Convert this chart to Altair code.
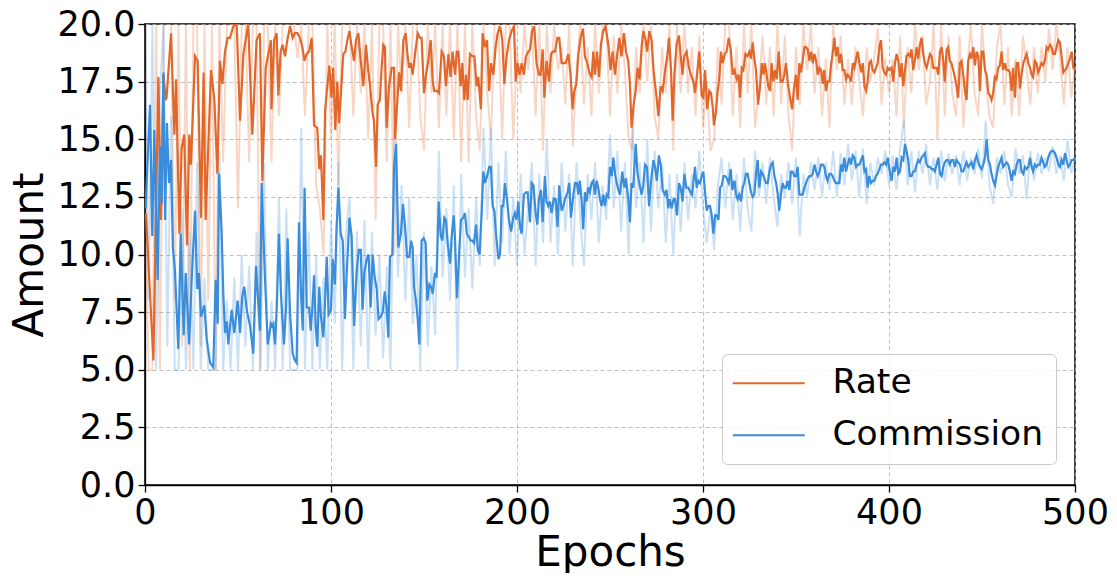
import altair as alt
import pandas as pd

ORANGE = "#e2672b"
BLUE = "#3a8ddb"
FONT = "DejaVu Sans"

series_names = ["Rate", "Commission"]
x_ticks = [0, 100, 200, 300, 400, 500]
y_ticks = [0, 2.5, 5, 7.5, 10, 12.5, 15, 17.5, 20]

# faint raw curves, one value every 2 epochs (0..500)
raw_epochs = list(range(0, 501, 2))
raw_rate = [
    12, 5, 5, 20, 5, 20, 20, 20, 8, 20,
    6, 20, 5, 20, 20, 6, 20, 8, 20, 5,
    20, 14, 20, 20, 20, 12, 20, 20, 14, 20,
    20, 5, 20, 20, 14, 20, 16, 20, 20, 20,
    20, 18.5, 20, 16, 20, 20, 13, 12, 10, 20,
    15, 20, 13, 20, 20, 20, 16, 20, 17, 20,
    15, 20, 11.5, 20, 20, 14, 20, 10, 20, 17,
    20, 15.5, 20, 20, 16, 14.5, 20, 17, 20, 15.5,
    20, 16, 20, 15, 20, 14, 20, 14, 20, 16,
    14.5, 20, 17, 15, 20, 20, 15, 20, 20, 15,
    19, 17, 20, 18, 20, 16, 20, 14.5, 20, 17,
    20, 18, 19, 16.5, 20, 14.7, 18, 20, 16.5, 19,
    16, 20, 17, 20, 20, 16, 19.5, 17, 20, 18,
    15, 14.5, 19, 17, 20, 17.5, 20, 16, 15, 19,
    17, 20, 14.5, 20, 17, 20, 17, 19, 16, 19.5,
    15.5, 17.5, 14.5, 15, 19, 16.5, 20, 20, 16, 19,
    15.5, 20, 17, 20, 15.5, 17, 19.5, 16.5, 19, 16,
    20, 16.5, 19.5, 16, 14.5, 19, 16.5, 20, 18, 20,
    17, 19, 16, 18.5, 15.5, 20, 18, 19.5, 16.5, 18.5,
    16.5, 19, 17.5, 16, 19, 17.5, 18.5, 19.8, 16.5, 18.5,
    17, 18.5, 16, 19.5, 15.5, 19, 17, 20, 18, 19.5,
    16.5, 17.5, 20, 15, 20, 16, 19.5, 17, 16, 19.5,
    15.5, 18, 20, 17, 16, 20, 17.5, 16, 15.5, 19,
    20, 16.5, 19, 16, 18.5, 16, 19.5, 18, 16.5, 19,
    17, 19, 17.5, 19.8, 18, 20, 18.5, 16.5, 19, 16.8,
    18.2,
]
raw_commission = [
    20, 8, 20, 5, 17, 20, 6, 16, 5, 5,
    12, 5, 11, 5, 14, 5, 9, 5, 5, 5,
    14.5, 5, 8, 5, 9, 5, 10, 6, 9.5, 5,
    11, 5, 14, 5, 8, 5, 12.5, 5, 12, 5,
    5, 5, 15.5, 5, 11, 5, 10, 5, 9, 5,
    11.5, 7, 14, 5, 11, 12.5, 5, 11, 6, 11.5,
    5, 11, 6.5, 10, 5.5, 9.5, 5, 15.5, 9, 13,
    8, 12.5, 7, 10, 5, 11, 6, 9.5, 6.5, 14.5,
    9, 12, 8, 13, 5, 13.5, 9, 12, 8.5, 12.5,
    9.5, 15.5, 11.5, 15.5, 9.5, 14, 10.5, 14.5, 10, 12.5,
    9.5, 13.5, 10, 12, 14, 9.5, 13.5, 10.5, 15, 10.5,
    13, 10, 14, 11, 13.5, 9.5, 14, 11.5, 9.5, 13.5,
    11.5, 14, 10.5, 13, 11.5, 15.2, 12, 14.5, 11, 14,
    10, 15.5, 12, 14, 10.5, 15, 11, 14.5, 12, 14,
    10.5, 13.5, 10, 13.5, 11, 14, 11.5, 13.5, 12, 14.5,
    12, 10.5, 12, 10.2, 13, 14.2, 12, 14, 11.5, 13.5,
    11, 14.2, 12, 11, 14.5, 12.5, 14, 12.2, 14.2, 12.5,
    11.2, 13.5, 12.5, 14, 12.2, 14.2, 10.8, 13.5, 12.5, 14,
    12.8, 14.2, 12.5, 14, 12.8, 14.5, 12.5, 14.4, 13, 14.8,
    13.2, 14.5, 12.5, 14.6, 12.2, 14, 13, 14.2, 13.5, 14.5,
    13, 14.3, 12.8, 14.6, 15.8, 13, 14.5, 12.7, 14.5, 13.5,
    14.8, 13, 14.2, 12.8, 14.5, 13.2, 14.4, 13.5, 14.3, 13,
    14.5, 13.2, 14.2, 13.5, 14.6, 13.3, 15.8, 13, 12.2, 14.2,
    13.5, 14.5, 13, 12.5, 14.6, 13.5, 14.3, 12.4, 14.5, 13.2,
    14.4, 13.5, 14.2, 13.6, 14.7, 13.5, 14.3, 13.2, 15, 13.5,
    14.2,
]

# smoothed curves, (epoch, value)
rate_smooth = [
    (0.5, 11.8), (4.5, 5.4), (7.2, 17.7), (8.6, 11.5), (9.9, 17.8), (11.1, 16.7), (11.6, 16.8),
    (14.0, 19.6), (15.8, 15.2), (16.7, 17.6), (18.5, 10.9), (19.7, 14.6), (21.1, 15.2), (22.6, 10.4),
    (23.8, 15.2), (24.7, 13.9), (26.9, 18.6), (28.3, 18.4), (30.1, 11.6), (31.5, 17.9), (32.6, 11.5),
    (35.5, 18.0), (37.3, 16.7), (38.9, 13.5), (40.3, 18.4), (41.6, 17.4), (43.0, 18.8), (44.4, 19.4),
    (45.7, 19.4), (47.5, 19.9), (49.3, 20.0), (51.1, 15.8), (52.9, 18.7), (55.5, 20.0), (57.7, 15.2),
    (60.0, 19.3), (61.8, 19.6), (63.1, 13.2), (64.9, 18.1), (66.3, 18.7), (67.7, 19.3),
    (68.0, 16.3), (69.4, 19.3), (70.8, 19.6), (71.7, 16.9), (72.9, 18.8), (74.0, 19.1), (75.3, 18.6),
    (76.5, 19.3), (78.0, 19.9), (79.4, 19.4), (80.6, 19.6), (81.9, 19.6), (83.3, 19.4), (84.6, 19.0),
    (85.7, 18.4), (86.9, 18.7), (88.2, 18.8), (89.6, 19.4), (90.9, 15.6), (92.6, 15.5), (93.7, 13.7),
    (94.6, 14.3), (95.9, 11.5), (96.8, 16.2), (98.0, 17.3), (99.1, 18.2), (100.2, 16.8), (101.2, 18.1),
    (102.3, 15.4), (103.4, 17.5), (104.3, 15.7), (105.4, 17.1), (106.6, 18.7), (107.7, 18.8),
    (108.8, 19.3), (109.9, 19.7), (111.1, 19.0), (112.4, 18.4), (113.4, 19.3), (114.7, 19.6),
    (116.0, 18.4), (117.4, 17.3), (118.8, 19.1), (120.0, 18.0), (121.0, 17.3), (122.4, 16.1),
    (123.1, 15.8), (124.2, 13.8), (125.1, 16.5), (126.3, 16.7), (127.2, 18.1), (128.1, 19.1),
    (129.0, 19.0), (129.9, 15.5), (131.2, 17.3), (132.6, 18.1), (133.9, 18.1), (134.4, 15.0),
    (136.6, 17.9), (137.6, 17.1), (138.9, 19.3), (140.1, 19.6), (141.2, 18.6), (142.1, 18.1),
    (143.0, 18.3), (143.9, 17.8), (145.2, 18.7), (146.6, 19.6), (147.8, 19.4), (148.7, 19.4),
    (150.0, 17.0), (151.1, 17.8), (152.3, 18.4), (153.6, 19.3), (154.7, 17.5), (155.5, 17.1),
    (156.8, 17.1), (158.0, 17.0), (159.5, 18.8), (160.7, 18.6), (161.8, 17.3), (163.1, 18.7),
    (164.3, 17.7), (165.4, 18.8), (166.7, 17.8), (167.6, 18.8), (168.5, 18.8), (169.7, 17.3),
    (170.6, 18.3), (171.7, 16.7), (172.6, 17.8), (173.5, 16.7), (174.7, 18.7), (176.0, 18.6),
    (177.1, 18.6), (178.3, 17.3), (179.2, 17.7), (180.6, 16.3), (181.5, 19.6), (182.8, 19.0),
    (183.9, 19.3), (185.0, 17.1), (186.0, 18.3), (187.3, 17.8), (188.5, 19.0), (189.6, 19.6),
    (190.9, 19.9), (192.1, 19.3), (193.2, 17.4), (194.4, 18.6), (195.7, 19.3), (197.1, 19.7),
    (198.4, 19.9), (199.3, 17.5),
    (200.3, 18.3), (201.4, 17.8), (202.5, 18.3), (203.7, 17.8), (204.8, 18.6), (206.1, 18.8),
    (207.0, 18.9), (208.2, 19.7), (209.3, 19.9), (210.5, 18.3), (211.8, 17.8), (212.7, 17.8),
    (213.8, 18.9), (214.7, 16.8), (215.9, 18.4), (217.2, 17.5), (218.3, 18.7), (219.2, 18.8),
    (220.4, 18.8), (221.7, 19.4), (222.7, 19.4), (224.0, 18.3), (225.2, 18.3), (226.1, 18.3),
    (227.6, 18.7), (228.8, 17.8), (229.9, 16.3), (230.8, 17.1), (231.9, 17.4), (233.0, 18.7),
    (234.2, 19.4), (235.5, 19.8), (236.5, 18.6), (237.8, 18.3), (238.9, 17.9), (240.1, 17.7),
    (241.0, 18.8), (241.9, 17.8), (243.0, 18.8), (244.1, 17.7), (245.1, 19.1), (246.4, 19.7),
    (247.6, 19.9), (249.1, 19.1), (250.3, 18.0), (251.4, 18.8), (252.7, 17.8), (253.9, 18.7),
    (255.0, 19.4), (256.2, 18.6), (257.5, 19.6), (258.6, 18.8), (259.8, 18.4), (260.7, 17.4),
    (261.6, 15.5), (262.7, 16.5), (263.8, 17.1), (264.8, 18.1), (265.9, 17.6), (267.0, 19.0),
    (267.9, 19.7), (269.2, 19.3), (270.0, 18.8), (271.1, 19.7), (272.4, 19.3), (273.3, 18.1),
    (274.2, 17.4), (275.2, 16.7), (276.0, 16.0), (277.2, 17.3), (278.3, 17.1), (279.5, 17.9),
    (280.8, 18.6), (281.7, 19.4), (282.8, 18.0), (283.7, 15.8), (284.6, 17.8), (285.8, 19.1),
    (287.1, 19.5), (288.0, 18.6), (289.0, 17.8), (289.9, 18.6), (291.2, 18.8), (292.4, 18.1),
    (293.5, 17.8), (294.8, 17.5), (295.7, 17.0), (296.9, 17.9), (298.0, 18.8),
    (299.3, 16.9), (300.2, 16.8), (301.1, 18.0), (302.3, 16.3), (303.4, 17.1), (304.3, 17.0),
    (305.2, 16.4), (305.9, 15.6), (307.0, 16.2), (307.9, 17.1), (308.8, 17.7), (309.7, 18.8),
    (310.6, 18.3), (311.7, 18.7), (312.7, 18.8), (313.8, 19.4), (314.9, 18.9), (316.0, 17.8),
    (317.0, 18.0), (318.1, 17.6), (319.2, 17.8), (319.9, 16.8), (320.8, 18.1), (321.7, 18.0),
    (322.8, 18.7), (323.9, 18.6), (324.9, 18.8), (325.8, 18.5), (326.7, 19.2), (327.6, 18.5),
    (328.5, 18.0), (329.6, 16.5), (330.7, 17.3), (331.6, 18.3), (332.5, 17.8), (333.3, 18.3),
    (334.2, 17.8), (335.1, 17.3), (336.0, 17.1), (336.9, 18.3), (337.8, 17.5), (338.7, 18.0),
    (339.6, 17.6), (340.7, 18.8), (341.8, 17.5), (342.8, 17.5), (343.7, 17.8), (344.6, 18.3),
    (345.7, 17.4), (346.8, 16.8), (347.9, 16.3), (348.9, 17.2), (350.0, 17.8), (350.9, 16.7),
    (351.8, 18.3), (352.7, 17.9), (353.6, 18.4), (354.5, 19.0), (355.4, 19.0), (356.3, 18.9),
    (357.2, 18.4), (358.1, 18.8), (359.0, 18.3), (359.9, 18.7), (360.8, 18.4), (361.7, 17.8),
    (362.6, 18.1), (363.5, 18.0), (364.4, 17.4), (365.2, 18.0), (366.1, 17.1), (367.0, 17.5),
    (368.0, 17.5), (368.8, 18.2), (369.7, 18.7), (370.6, 19.4), (371.5, 18.6), (372.4, 19.0),
    (373.3, 18.3), (374.2, 18.7), (375.1, 18.0), (376.0, 18.0), (376.9, 17.6), (377.8, 17.8),
    (378.7, 17.7), (379.6, 17.5), (380.5, 18.3), (381.4, 18.1), (382.3, 18.5), (383.2, 18.8),
    (384.1, 18.3), (385.0, 17.9), (385.9, 18.3), (386.8, 17.3), (387.7, 17.1), (388.5, 17.5),
    (389.4, 18.3), (390.3, 18.4), (391.2, 18.0), (392.1, 17.9), (393.0, 18.1), (393.9, 18.3),
    (394.8, 19.0), (395.7, 19.3), (396.6, 18.1), (397.5, 17.9), (398.4, 17.8), (399.3, 18.1),
    (400.2, 18.0),
    (401.4, 18.1), (402.3, 17.5), (403.2, 18.3), (404.1, 18.7), (405.0, 18.4), (405.9, 17.7),
    (406.8, 18.3), (407.7, 17.3), (408.6, 18.0), (409.4, 18.6), (410.3, 18.7), (411.2, 18.6),
    (412.1, 18.9), (413.0, 18.0), (413.9, 18.4), (414.8, 19.0), (415.7, 18.5), (416.6, 19.1),
    (417.5, 19.4), (418.4, 18.7), (419.3, 18.3), (420.2, 18.1), (421.1, 18.4), (422.0, 18.7),
    (422.9, 18.6), (423.8, 18.1), (424.7, 18.1), (425.6, 18.1), (426.5, 17.8), (427.4, 18.8),
    (428.3, 19.0), (429.2, 18.4), (430.0, 17.5), (431.0, 18.9), (431.8, 19.0), (432.7, 18.4),
    (433.6, 18.3), (434.5, 18.0), (435.4, 17.7), (436.3, 17.3), (437.2, 16.8), (438.1, 18.3),
    (439.0, 18.4), (439.9, 17.8), (440.8, 17.1), (441.7, 16.7), (442.6, 18.4), (443.5, 18.7),
    (444.4, 18.5), (445.3, 19.0), (446.2, 18.2), (447.1, 18.8), (448.0, 18.6), (448.9, 17.1),
    (449.8, 18.8), (450.7, 18.8), (451.6, 18.0), (452.5, 17.8), (453.4, 17.0), (454.3, 16.9),
    (455.1, 16.7), (456.0, 17.0), (456.9, 17.7), (457.8, 17.6), (458.7, 18.1), (459.6, 18.2),
    (460.5, 18.8), (461.4, 18.0), (462.3, 18.3), (463.2, 18.0), (464.1, 18.0), (465.0, 17.9),
    (465.9, 17.1), (466.8, 18.1), (467.7, 16.8), (468.6, 18.3), (469.5, 18.3), (470.4, 17.2),
    (471.3, 17.8), (472.2, 18.3), (473.1, 18.5), (474.0, 18.7), (474.9, 18.3), (475.8, 18.1),
    (476.7, 17.8), (477.5, 17.7), (478.4, 18.4), (479.3, 18.3), (480.2, 17.9), (481.1, 18.1),
    (482.0, 18.3), (482.9, 18.2), (483.8, 18.4), (484.7, 19.0), (485.6, 18.9), (486.5, 19.1),
    (487.4, 19.0), (488.3, 18.7), (489.2, 18.7), (490.1, 19.0), (491.0, 19.3), (491.9, 19.2),
    (492.8, 18.6), (493.7, 17.9), (494.6, 18.0), (495.5, 18.1), (496.4, 18.3), (497.3, 18.5),
    (498.2, 18.8), (499.1, 18.1), (500.0, 18.0),
]

commission_smooth = [
    (0.3, 12.0), (2.7, 16.5), (3.9, 10.8), (5.0, 15.4), (6.8, 8.9), (8.1, 14.7), (9.0, 12.2),
    (9.9, 17.9), (10.8, 11.5), (11.8, 15.7), (12.9, 13.1), (14.0, 14.1), (15.0, 10.3), (16.1, 9.3),
    (17.9, 5.9), (19.2, 10.9), (20.8, 6.5), (21.9, 9.2), (23.7, 6.1), (25.1, 8.9), (26.9, 11.9),
    (28.1, 8.5), (29.0, 9.2), (30.1, 7.3), (31.9, 7.8), (33.2, 6.3), (35.0, 5.3), (36.7, 5.1),
    (38.0, 8.9), (39.1, 7.0), (39.8, 13.5), (41.2, 11.0), (42.1, 8.3), (43.0, 6.6), (43.9, 7.1),
    (44.8, 6.1), (46.6, 7.6), (48.0, 6.6), (49.8, 8.0), (51.1, 6.6), (52.3, 8.2), (53.4, 8.6),
    (54.7, 7.6), (56.5, 6.9), (58.2, 5.7), (59.7, 9.5), (60.9, 7.9), (61.8, 6.7), (62.7, 13.1),
    (64.2, 9.6), (66.0, 6.1), (67.7, 7.0), (68.3, 6.9),
    (69.0, 7.0), (69.9, 6.1), (70.8, 7.6), (72.0, 10.9), (73.1, 8.3), (74.7, 6.1), (75.8, 7.7),
    (76.7, 10.7), (78.0, 7.4), (79.4, 5.7), (80.6, 5.4), (81.5, 5.3), (82.8, 11.4), (83.9, 8.3),
    (84.8, 6.7), (85.8, 12.9), (86.9, 7.7), (88.2, 7.7), (89.1, 6.7), (90.0, 7.7), (90.9, 9.1),
    (91.8, 6.9), (92.6, 6.0), (93.7, 8.6), (94.6, 7.3), (95.9, 6.4), (96.8, 8.0), (97.7, 9.9),
    (98.7, 7.4), (100.0, 7.6), (100.9, 9.8), (102.1, 8.7), (103.0, 11.2), (104.0, 12.9),
    (105.2, 10.9), (106.3, 10.6), (107.5, 7.2), (108.4, 9.1), (109.9, 11.6), (111.1, 10.8),
    (112.4, 6.9), (113.8, 9.2), (114.9, 10.2), (116.0, 10.2), (117.0, 7.6), (117.9, 9.2),
    (119.2, 9.8), (120.2, 10.0), (121.3, 7.7), (122.4, 10.0), (123.5, 9.0), (124.6, 8.5),
    (125.6, 7.2), (126.7, 7.3), (127.8, 7.5), (128.9, 8.4), (129.9, 7.7), (130.8, 6.4),
    (131.7, 9.9), (133.0, 10.0), (133.9, 13.8), (135.0, 14.8), (136.2, 10.3),
    (137.6, 10.9), (138.7, 12.2), (139.8, 11.2), (140.9, 9.9), (142.1, 9.9), (143.0, 10.6),
    (143.9, 10.3), (144.6, 8.6), (145.7, 8.0), (146.6, 7.2), (147.5, 6.1), (148.7, 10.6),
    (149.8, 10.7), (150.9, 10.5), (151.8, 8.0), (152.9, 8.7), (153.8, 8.6), (154.7, 8.3),
    (155.9, 9.2), (156.8, 9.0), (157.9, 12.3), (159.0, 10.8), (159.9, 10.6), (160.9, 11.6),
    (161.8, 11.5), (162.7, 10.5), (164.0, 9.6), (164.9, 10.8), (166.0, 11.7), (166.7, 10.6),
    (167.7, 8.1), (168.8, 9.9), (169.9, 11.5), (171.1, 11.6), (172.0, 11.8), (173.0, 10.9),
    (173.8, 10.8), (175.1, 10.6), (176.0, 10.6), (176.9, 10.5), (178.0, 11.3), (178.9, 10.2),
    (179.9, 10.0), (181.0, 11.8), (181.9, 13.6), (182.8, 13.1), (183.9, 13.4), (185.1, 13.8),
    (186.0, 13.8), (186.9, 12.1), (187.8, 11.9), (188.7, 10.9), (190.0, 9.8), (190.9, 10.0),
    (191.8, 12.1), (192.6, 12.1), (193.5, 13.1), (194.6, 12.4), (195.7, 11.5), (196.8, 11.0),
    (198.0, 11.6), (198.9, 11.8),
    (199.8, 11.5), (200.7, 12.3), (201.6, 11.2), (202.5, 10.9), (203.7, 12.6), (204.8, 12.7),
    (205.7, 12.7), (207.0, 11.4), (207.9, 13.1), (208.9, 13.0), (210.0, 11.8), (210.9, 11.3),
    (211.8, 12.4), (212.9, 12.8), (213.8, 11.4), (215.0, 13.4), (215.9, 12.3), (216.8, 12.1),
    (217.7, 12.3), (218.6, 11.8), (219.7, 12.4), (220.8, 12.4), (221.8, 11.2), (222.7, 13.0),
    (224.0, 11.9), (224.9, 12.1), (225.8, 12.4), (227.2, 12.7), (228.1, 13.1), (229.0, 11.6),
    (230.3, 12.6), (231.2, 13.1), (232.2, 13.1), (233.0, 12.6), (233.8, 13.2), (234.7, 12.4),
    (235.6, 11.1), (236.5, 12.7), (237.4, 12.3), (238.3, 12.9), (239.2, 12.7), (240.1, 13.1),
    (241.0, 13.2), (241.9, 12.6), (242.8, 13.2), (243.7, 12.9), (244.6, 12.4), (245.5, 12.1),
    (246.4, 12.6), (247.3, 12.1), (248.2, 12.6), (249.1, 12.5), (250.0, 13.8), (250.9, 13.4),
    (251.8, 14.2), (252.7, 13.5), (253.6, 13.1), (254.5, 12.8), (255.4, 12.6), (256.6, 13.6),
    (257.7, 12.9), (258.6, 13.3), (259.8, 12.4), (260.7, 11.4), (261.6, 13.1), (262.5, 12.9),
    (263.8, 14.8), (264.8, 13.5), (265.7, 13.1), (267.0, 12.6), (267.9, 13.0), (268.8, 13.9),
    (269.9, 13.8), (271.0, 12.1), (272.0, 13.1), (273.3, 14.1), (274.2, 13.8), (275.2, 13.2),
    (276.3, 14.3), (277.4, 13.8), (278.3, 12.8), (279.5, 12.6), (280.4, 12.8), (281.3, 12.0),
    (282.2, 12.4), (283.1, 12.0), (284.2, 12.4), (285.0, 12.4), (286.0, 11.7), (287.1, 13.1),
    (288.0, 12.9), (289.0, 12.3), (290.0, 13.5), (291.0, 12.9), (292.1, 12.9), (293.2, 12.7),
    (294.0, 12.6), (294.8, 13.1), (295.7, 13.8), (296.6, 12.9), (297.5, 13.2), (298.4, 13.1),
    (299.3, 13.4),
    (300.2, 13.6), (301.1, 12.7), (302.0, 11.9), (302.9, 12.1), (303.8, 12.1), (304.7, 11.7),
    (305.6, 10.9), (306.5, 11.7), (307.4, 11.7), (308.3, 11.5), (309.2, 12.9), (310.1, 13.0),
    (311.0, 13.4), (311.9, 13.4), (312.8, 13.3), (313.8, 13.1), (314.9, 13.7), (315.8, 12.8),
    (316.9, 13.2), (317.8, 12.6), (318.6, 12.4), (319.5, 12.6), (320.4, 12.3), (321.3, 12.9),
    (322.2, 13.1), (323.1, 13.5), (324.0, 13.5), (324.9, 13.1), (325.8, 12.7), (326.7, 12.5),
    (327.6, 12.6), (328.5, 13.5), (329.4, 14.1), (330.3, 12.9), (331.2, 13.6), (332.1, 13.5),
    (333.0, 13.3), (333.9, 13.1), (334.8, 13.1), (335.7, 13.6), (336.6, 13.9), (337.5, 14.0),
    (338.4, 13.4), (339.3, 13.1), (340.2, 12.6), (341.0, 11.9), (341.9, 12.6), (342.8, 13.1),
    (343.7, 12.9), (344.6, 12.9), (345.5, 13.2), (346.4, 12.8), (347.3, 13.6), (348.2, 13.6),
    (349.1, 13.4), (350.0, 13.4), (350.9, 13.8), (351.8, 12.6), (352.7, 12.6), (353.6, 12.6),
    (354.5, 12.9), (355.4, 13.1), (356.3, 13.3), (357.2, 13.4), (358.1, 13.4), (359.0, 13.5),
    (359.9, 13.9), (360.8, 13.6), (361.7, 13.4), (362.6, 13.6), (363.5, 13.9), (364.4, 13.9),
    (365.2, 13.8), (366.1, 13.4), (367.0, 13.2), (368.0, 13.5), (368.8, 13.5), (369.7, 13.4),
    (370.6, 13.2), (371.5, 13.1), (372.4, 13.1), (373.3, 13.1), (374.2, 13.9), (375.1, 13.6),
    (376.0, 14.2), (376.9, 13.6), (377.8, 13.9), (378.7, 14.2), (379.6, 13.9), (380.5, 14.3),
    (381.4, 14.2), (382.3, 13.8), (383.2, 13.9), (384.1, 13.9), (385.0, 14.1), (385.9, 14.3),
    (386.8, 13.6), (387.7, 13.7), (388.5, 12.9), (389.4, 13.4), (390.3, 13.1), (391.2, 13.2),
    (392.1, 13.2), (393.0, 13.4), (393.9, 13.5), (394.8, 13.7), (395.7, 13.9), (396.6, 13.9),
    (397.5, 14.0), (398.4, 13.9), (399.3, 14.2), (400.2, 13.7),
    (401.4, 13.2), (402.3, 13.8), (403.2, 13.6), (404.1, 14.2), (405.0, 13.5), (405.9, 13.6),
    (406.8, 14.2), (407.7, 14.1), (408.6, 14.8), (409.4, 14.5), (410.3, 14.1), (411.2, 13.4),
    (412.1, 13.4), (413.0, 13.6), (413.9, 13.6), (414.8, 13.9), (415.7, 14.1), (416.6, 14.0),
    (417.5, 14.2), (418.4, 14.3), (419.3, 14.4), (420.2, 13.9), (421.1, 13.8), (422.0, 13.8),
    (422.9, 13.7), (423.8, 13.7), (424.7, 13.6), (425.6, 13.9), (426.5, 14.2), (427.4, 13.5),
    (428.3, 13.4), (429.2, 13.8), (430.0, 14.0), (431.0, 14.1), (431.8, 14.1), (432.7, 13.9),
    (433.6, 14.1), (434.5, 14.1), (435.4, 13.8), (436.3, 14.1), (437.2, 14.0), (438.1, 13.9),
    (439.0, 13.6), (439.9, 13.6), (440.8, 13.8), (441.7, 14.0), (442.6, 13.8), (443.5, 13.9),
    (444.4, 14.0), (445.3, 13.7), (446.2, 14.1), (447.1, 14.3), (448.0, 14.0), (448.9, 13.8),
    (449.8, 13.7), (450.7, 13.9), (451.6, 14.2), (452.5, 15.0), (453.4, 14.1), (454.3, 13.9),
    (455.1, 13.5), (456.0, 13.2), (457.0, 13.0), (457.8, 13.4), (458.7, 13.8), (459.6, 14.0),
    (460.5, 14.2), (461.4, 13.8), (462.3, 13.9), (463.2, 14.0), (464.1, 13.9), (465.0, 13.6),
    (465.9, 13.2), (466.8, 13.6), (467.7, 13.5), (468.6, 13.9), (469.5, 14.1), (470.4, 14.1),
    (471.3, 13.6), (472.2, 13.5), (473.1, 13.8), (474.0, 13.7), (474.9, 13.8), (475.8, 14.2),
    (476.7, 13.8), (477.5, 13.6), (478.4, 13.9), (479.3, 13.8), (480.2, 13.9), (481.1, 13.9),
    (482.0, 14.2), (482.9, 14.0), (483.8, 13.8), (484.7, 13.9), (485.6, 14.2), (486.5, 14.4),
    (487.4, 14.5), (488.3, 14.5), (489.2, 14.4), (490.1, 14.2), (491.0, 13.9), (491.9, 13.8),
    (492.8, 14.1), (493.7, 13.9), (494.6, 14.4), (495.5, 14.1), (496.4, 13.8), (497.3, 13.9),
    (498.2, 14.1), (499.1, 14.1), (500.0, 14.2),
]


def frame(epochs, values, name):
    return pd.DataFrame({"epoch": epochs, "value": values, "series": name})


raw_rate_df = frame(raw_epochs, raw_rate, "Rate")
raw_comm_df = frame(raw_epochs, raw_commission, "Commission")
sm_rate_df = frame([p[0] for p in rate_smooth], [p[1] for p in rate_smooth], "Rate")
sm_comm_df = frame([p[0] for p in commission_smooth], [p[1] for p in commission_smooth], "Commission")

x_enc = alt.X(
    "epoch:Q",
    scale=alt.Scale(domain=[0, 500], nice=False, zero=False),
    axis=alt.Axis(values=x_ticks, title="Epochs", labelFlush=False, labelOverlap=False,
                  labelPadding=3, titlePadding=2),
)
y_enc = alt.Y(
    "value:Q",
    scale=alt.Scale(domain=[0, 20], nice=False),
    axis=alt.Axis(values=y_ticks, format=".1f", title="Amount", labelOverlap=False,
                  labelPadding=3, titlePadding=6),
)
color_enc = alt.Color(
    "series:N",
    scale=alt.Scale(domain=series_names, range=[ORANGE, BLUE]),
    legend=alt.Legend(
        title=None, orient="none", legendX=577, legendY=330,
        symbolType="M-5,0H5", symbolSize=207, symbolStrokeWidth=2, symbolOpacity=1,
        symbolOffset=17.5,
        labelFontSize=34.5, labelFont=FONT, labelColor="black", labelOffset=46.5, labelLimit=0,
        padding=12, rowPadding=17, fillColor="rgba(255,255,255,0.8)",
        strokeColor="#cccccc", cornerRadius=5,
    ),
)


def line(df, width, opacity):
    return alt.Chart(df).mark_line(strokeWidth=width, opacity=opacity, clip=True).encode(
        x=x_enc, y=y_enc, color=color_enc, order="epoch:Q"
    )


chart = alt.layer(
    line(raw_rate_df, 2, 0.27),
    line(raw_comm_df, 2, 0.27),
    line(sm_rate_df, 2.2, 1),
    line(sm_comm_df, 2.2, 1),
).properties(
    width=930, height=461,
    autosize=alt.AutoSizeParams(type="none"),
    padding={"left": 137, "top": 16, "right": 33, "bottom": 88},
).configure(
    font=FONT,
).configure_view(
    stroke="black", strokeWidth=1.5,
).configure_axis(
    labelFont=FONT, titleFont=FONT, labelFontSize=35, titleFontSize=42,
    titleFontWeight="normal", labelColor="black", titleColor="black",
    tickColor="black", tickSize=7, tickWidth=1.3, domainColor="black", domainWidth=1.3,
    gridColor="#b0b0b0", gridDash=[4, 3], gridWidth=0.8,
)

chart.save("out.html", embed_options={"renderer": "svg", "actions": False})
